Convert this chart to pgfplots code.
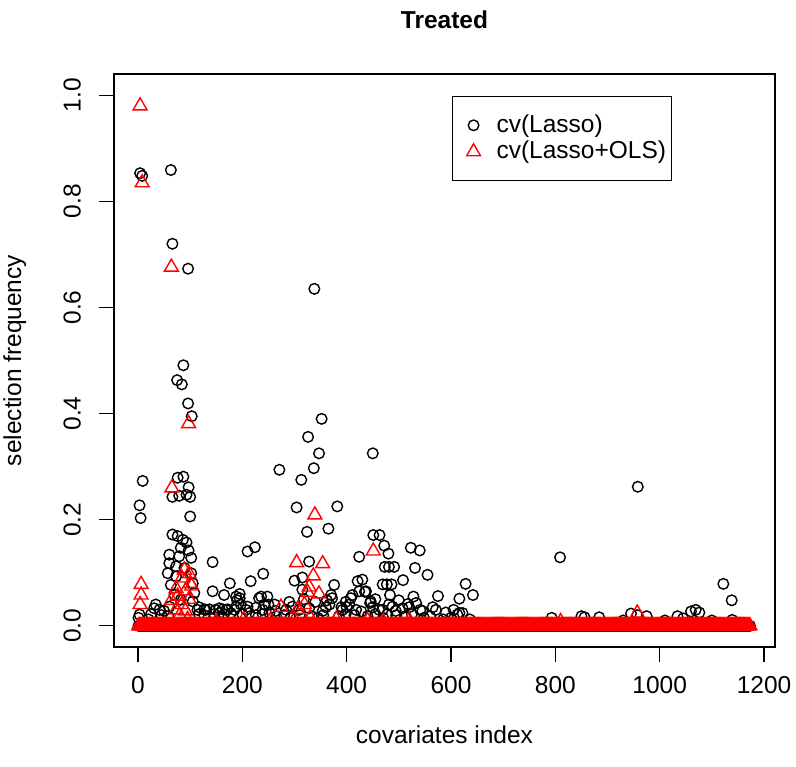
\documentclass[border=0pt]{standalone}
\usepackage{pgfplots}
\pgfplotsset{compat=1.18}
\usepackage{pgfplotstable}
\usepackage{fontspec}
\setmainfont{Liberation Sans}

\pgfplotsset{mymarklegend/.style={legend image code/.code={\path[draw=none] (0pt,0pt) -- (39pt,0pt);\draw[mark repeat=2,mark phase=2,##1,only marks] plot coordinates {(7pt,0pt)(17pt,0pt)(27pt,0pt)};}}}

% indices whose selection frequency is zero (both series)
\pgfplotstableread[row sep=\\]{x y\\
1 0\\ 3 0\\ 5 0\\ 7 0\\ 9 0\\ 11 0\\ 13 0\\ 15 0\\ 17 0\\ 19 0\\ 21 0\\ 23 0\\ 25 0\\ 27 0\\ 29 0\\ 31 0\\ 33 0\\ 35 0\\ 37 0\\ 39 0\\
41 0\\ 43 0\\ 45 0\\ 47 0\\ 49 0\\ 51 0\\ 53 0\\ 55 0\\ 57 0\\ 59 0\\ 61 0\\ 63 0\\ 65 0\\ 67 0\\ 69 0\\ 71 0\\ 73 0\\ 75 0\\ 77 0\\ 79 0\\
81 0\\ 83 0\\ 85 0\\ 87 0\\ 89 0\\ 91 0\\ 93 0\\ 95 0\\ 97 0\\ 99 0\\ 101 0\\ 103 0\\ 105 0\\ 107 0\\ 109 0\\ 111 0\\ 113 0\\ 115 0\\ 117 0\\ 119 0\\
121 0\\ 123 0\\ 125 0\\ 127 0\\ 129 0\\ 131 0\\ 133 0\\ 135 0\\ 137 0\\ 139 0\\ 141 0\\ 143 0\\ 145 0\\ 147 0\\ 149 0\\ 151 0\\ 153 0\\ 155 0\\ 157 0\\ 159 0\\
161 0\\ 163 0\\ 165 0\\ 167 0\\ 169 0\\ 171 0\\ 173 0\\ 175 0\\ 177 0\\ 179 0\\ 181 0\\ 183 0\\ 185 0\\ 187 0\\ 189 0\\ 191 0\\ 193 0\\ 195 0\\ 197 0\\ 199 0\\
201 0\\ 203 0\\ 205 0\\ 207 0\\ 209 0\\ 211 0\\ 213 0\\ 215 0\\ 217 0\\ 219 0\\ 221 0\\ 223 0\\ 225 0\\ 227 0\\ 229 0\\ 231 0\\ 233 0\\ 235 0\\ 237 0\\ 239 0\\
241 0\\ 243 0\\ 245 0\\ 247 0\\ 249 0\\ 251 0\\ 253 0\\ 255 0\\ 257 0\\ 259 0\\ 261 0\\ 263 0\\ 265 0\\ 267 0\\ 269 0\\ 271 0\\ 273 0\\ 275 0\\ 277 0\\ 279 0\\
281 0\\ 283 0\\ 285 0\\ 287 0\\ 289 0\\ 291 0\\ 293 0\\ 295 0\\ 297 0\\ 299 0\\ 301 0\\ 303 0\\ 305 0\\ 307 0\\ 309 0\\ 311 0\\ 313 0\\ 315 0\\ 317 0\\ 319 0\\
321 0\\ 323 0\\ 325 0\\ 327 0\\ 329 0\\ 331 0\\ 333 0\\ 335 0\\ 337 0\\ 339 0\\ 341 0\\ 343 0\\ 345 0\\ 347 0\\ 349 0\\ 351 0\\ 353 0\\ 355 0\\ 357 0\\ 359 0\\
361 0\\ 363 0\\ 365 0\\ 367 0\\ 369 0\\ 371 0\\ 373 0\\ 375 0\\ 377 0\\ 379 0\\ 381 0\\ 383 0\\ 385 0\\ 387 0\\ 389 0\\ 391 0\\ 393 0\\ 395 0\\ 397 0\\ 399 0\\
401 0\\ 403 0\\ 405 0\\ 407 0\\ 409 0\\ 411 0\\ 413 0\\ 415 0\\ 417 0\\ 419 0\\ 421 0\\ 423 0\\ 425 0\\ 427 0\\ 429 0\\ 431 0\\ 433 0\\ 435 0\\ 437 0\\ 439 0\\
441 0\\ 443 0\\ 445 0\\ 447 0\\ 449 0\\ 451 0\\ 453 0\\ 455 0\\ 457 0\\ 459 0\\ 461 0\\ 463 0\\ 465 0\\ 467 0\\ 469 0\\ 471 0\\ 473 0\\ 475 0\\ 477 0\\ 479 0\\
481 0\\ 483 0\\ 485 0\\ 487 0\\ 489 0\\ 491 0\\ 493 0\\ 495 0\\ 497 0\\ 499 0\\ 501 0\\ 503 0\\ 505 0\\ 507 0\\ 509 0\\ 511 0\\ 513 0\\ 515 0\\ 517 0\\ 519 0\\
521 0\\ 523 0\\ 525 0\\ 527 0\\ 529 0\\ 531 0\\ 533 0\\ 535 0\\ 537 0\\ 539 0\\ 541 0\\ 543 0\\ 545 0\\ 547 0\\ 549 0\\ 551 0\\ 553 0\\ 555 0\\ 557 0\\ 559 0\\
561 0\\ 563 0\\ 565 0\\ 567 0\\ 569 0\\ 571 0\\ 573 0\\ 575 0\\ 577 0\\ 579 0\\ 581 0\\ 583 0\\ 585 0\\ 587 0\\ 589 0\\ 591 0\\ 593 0\\ 595 0\\ 597 0\\ 599 0\\
601 0\\ 603 0\\ 605 0\\ 607 0\\ 609 0\\ 611 0\\ 613 0\\ 615 0\\ 617 0\\ 619 0\\ 621 0\\ 623 0\\ 625 0\\ 627 0\\ 629 0\\ 631 0\\ 633 0\\ 635 0\\ 637 0\\ 639 0\\
641 0\\ 643 0\\ 645 0\\ 647 0\\ 649 0\\ 651 0\\ 653 0\\ 655 0\\ 657 0\\ 659 0\\ 661 0\\ 663 0\\ 665 0\\ 667 0\\ 669 0\\ 671 0\\ 673 0\\ 675 0\\ 677 0\\ 679 0\\
681 0\\ 683 0\\ 685 0\\ 687 0\\ 689 0\\ 691 0\\ 693 0\\ 695 0\\ 697 0\\ 699 0\\ 701 0\\ 703 0\\ 705 0\\ 707 0\\ 709 0\\ 711 0\\ 713 0\\ 715 0\\ 717 0\\ 719 0\\
721 0\\ 723 0\\ 725 0\\ 727 0\\ 729 0\\ 731 0\\ 733 0\\ 735 0\\ 737 0\\ 739 0\\ 741 0\\ 743 0\\ 745 0\\ 747 0\\ 749 0\\ 751 0\\ 753 0\\ 755 0\\ 757 0\\ 759 0\\
761 0\\ 763 0\\ 765 0\\ 767 0\\ 769 0\\ 771 0\\ 773 0\\ 775 0\\ 777 0\\ 779 0\\ 781 0\\ 783 0\\ 785 0\\ 787 0\\ 789 0\\ 791 0\\ 793 0\\ 795 0\\ 797 0\\ 799 0\\
801 0\\ 803 0\\ 805 0\\ 807 0\\ 809 0\\ 811 0\\ 813 0\\ 815 0\\ 817 0\\ 819 0\\ 821 0\\ 823 0\\ 825 0\\ 827 0\\ 829 0\\ 831 0\\ 833 0\\ 835 0\\ 837 0\\ 839 0\\
841 0\\ 843 0\\ 845 0\\ 847 0\\ 849 0\\ 851 0\\ 853 0\\ 855 0\\ 857 0\\ 859 0\\ 861 0\\ 863 0\\ 865 0\\ 867 0\\ 869 0\\ 871 0\\ 873 0\\ 875 0\\ 877 0\\ 879 0\\
881 0\\ 883 0\\ 885 0\\ 887 0\\ 889 0\\ 891 0\\ 893 0\\ 895 0\\ 897 0\\ 899 0\\ 901 0\\ 903 0\\ 905 0\\ 907 0\\ 909 0\\ 911 0\\ 913 0\\ 915 0\\ 917 0\\ 919 0\\
921 0\\ 923 0\\ 925 0\\ 927 0\\ 929 0\\ 931 0\\ 933 0\\ 935 0\\ 937 0\\ 939 0\\ 941 0\\ 943 0\\ 945 0\\ 947 0\\ 949 0\\ 951 0\\ 953 0\\ 955 0\\ 957 0\\ 959 0\\
961 0\\ 963 0\\ 965 0\\ 967 0\\ 969 0\\ 971 0\\ 973 0\\ 975 0\\ 977 0\\ 979 0\\ 981 0\\ 983 0\\ 985 0\\ 987 0\\ 989 0\\ 991 0\\ 993 0\\ 995 0\\ 997 0\\ 999 0\\
1001 0\\ 1003 0\\ 1005 0\\ 1007 0\\ 1009 0\\ 1011 0\\ 1013 0\\ 1015 0\\ 1017 0\\ 1019 0\\ 1021 0\\ 1023 0\\ 1025 0\\ 1027 0\\ 1029 0\\ 1031 0\\ 1033 0\\ 1035 0\\ 1037 0\\ 1039 0\\
1041 0\\ 1043 0\\ 1045 0\\ 1047 0\\ 1049 0\\ 1051 0\\ 1053 0\\ 1055 0\\ 1057 0\\ 1059 0\\ 1061 0\\ 1063 0\\ 1065 0\\ 1067 0\\ 1069 0\\ 1071 0\\ 1073 0\\ 1075 0\\ 1077 0\\ 1079 0\\
1081 0\\ 1083 0\\ 1085 0\\ 1087 0\\ 1089 0\\ 1091 0\\ 1093 0\\ 1095 0\\ 1097 0\\ 1099 0\\ 1101 0\\ 1103 0\\ 1105 0\\ 1107 0\\ 1109 0\\ 1111 0\\ 1113 0\\ 1115 0\\ 1117 0\\ 1119 0\\
1121 0\\ 1123 0\\ 1125 0\\ 1127 0\\ 1129 0\\ 1131 0\\ 1133 0\\ 1135 0\\ 1137 0\\ 1139 0\\ 1141 0\\ 1143 0\\ 1145 0\\ 1147 0\\ 1149 0\\ 1151 0\\ 1153 0\\ 1155 0\\ 1157 0\\ 1159 0\\
1161 0\\ 1163 0\\ 1165 0\\ 1167 0\\ 1169 0\\ 1171 0\\ 1173 0\\
}\zerotab

% cv(Lasso): non-zero frequencies
\pgfplotstableread[row sep=\\]{x y\\
4 0.853\\ 8 0.848\\ 63 0.859\\ 66 0.720\\ 96 0.673\\ 338 0.635\\ 87 0.491\\ 75 0.463\\ 84 0.455\\ 96 0.419\\ 103 0.395\\ 352 0.390\\ 326 0.356\\ 347 0.325\\ 450 0.325\\ 271 0.294\\ 337 0.297\\ 313 0.275\\ 9 0.273\\ 76 0.279\\ 87 0.281\\ 97 0.261\\ 66 0.243\\ 79 0.245\\ 93 0.247\\ 100 0.243\\ 3 0.227\\ 5 0.203\\ 100 0.206\\ 304 0.223\\ 382 0.225\\ 324 0.177\\ 365 0.183\\ 451 0.171\\ 463 0.171\\ 472 0.151\\ 480 0.136\\ 224 0.148\\ 210 0.140\\ 523 0.147\\ 540 0.142\\ 424 0.130\\ 473 0.111\\ 481 0.111\\ 491 0.111\\ 531 0.109\\ 555 0.096\\ 508 0.086\\ 469 0.078\\ 477 0.078\\ 486 0.078\\ 483 0.058\\ 575 0.056\\ 628 0.079\\ 642 0.058\\ 616 0.051\\ 958 0.262\\ 809 0.129\\ 1122 0.079\\ 1138 0.048\\
66 0.172\\ 76 0.169\\ 86 0.162\\ 93 0.157\\ 82 0.147\\ 97 0.142\\ 60 0.134\\ 79 0.131\\ 102 0.128\\ 60 0.118\\ 73 0.112\\ 89 0.109\\ 57 0.099\\ 102 0.099\\ 73 0.093\\ 63 0.077\\ 105 0.080\\ 108 0.062\\ 70 0.058\\ 82 0.049\\ 105 0.046\\ 60 0.036\\ 114 0.030\\ 31 0.033\\ 41 0.030\\ 50 0.028\\ 34 0.040\\ 3 0.021\\ 1 0.015\\ 127 0.031\\ 137 0.031\\ 149 0.030\\ 162 0.031\\ 172 0.031\\ 185 0.030\\ 143 0.120\\ 143 0.065\\ 165 0.058\\ 176 0.080\\ 188 0.055\\ 190 0.048\\ 240 0.098\\ 216 0.084\\ 195 0.060\\ 195 0.052\\ 232 0.052\\ 236 0.055\\ 248 0.055\\ 250 0.040\\ 210 0.036\\ 197 0.040\\ 242 0.040\\ 262 0.040\\ 300 0.085\\ 315 0.091\\ 328 0.121\\ 315 0.068\\ 376 0.077\\ 421 0.084\\ 424 0.065\\ 370 0.058\\ 372 0.052\\ 408 0.052\\ 411 0.058\\ 435 0.064\\ 445 0.043\\ 400 0.035\\ 360 0.035\\ 390 0.035\\ 430 0.087\\ 437 0.065\\ 446 0.046\\ 428 0.027\\ 462 0.030\\ 488 0.036\\ 507 0.033\\ 517 0.041\\ 533 0.043\\ 541 0.030\\ 571 0.030\\ 616 0.024\\ 622 0.024\\ 612 0.021\\
117 0.035\\ 130 0.030\\ 156 0.033\\ 169 0.030\\ 188 0.036\\ 207 0.030\\ 226 0.034\\ 239 0.030\\ 264 0.028\\ 284 0.030\\ 296 0.036\\ 309 0.030\\ 328 0.033\\ 354 0.028\\ 367 0.040\\ 392 0.030\\ 405 0.040\\ 418 0.030\\ 450 0.035\\ 469 0.030\\ 481 0.040\\ 494 0.028\\ 520 0.035\\ 545 0.028\\ 565 0.035\\ 590 0.025\\ 605 0.030\\ 290 0.045\\ 318 0.050\\ 340 0.045\\ 362 0.048\\ 398 0.045\\ 455 0.050\\ 500 0.048\\ 528 0.055\\
20 0.012\\ 25 0.022\\ 45 0.020\\ 58 0.018\\ 117 0.022\\ 127 0.020\\ 146 0.022\\ 156 0.024\\ 165 0.022\\ 178 0.024\\ 200 0.022\\ 213 0.024\\ 226 0.020\\ 239 0.022\\ 252 0.024\\ 265 0.018\\ 280 0.020\\ 292 0.015\\ 310 0.020\\ 333 0.018\\ 345 0.015\\ 355 0.020\\ 385 0.018\\ 398 0.022\\ 415 0.020\\ 440 0.018\\ 455 0.022\\ 470 0.015\\ 478 0.022\\ 495 0.020\\ 512 0.018\\ 525 0.022\\ 548 0.015\\ 560 0.018\\ 585 0.012\\ 600 0.015\\ 636 0.012\\ 793 0.015\\ 850 0.018\\ 856 0.016\\ 884 0.016\\ 945 0.023\\ 957 0.020\\ 975 0.018\\ 1034 0.018\\ 1045 0.014\\ 1060 0.027\\ 1069 0.030\\ 1076 0.025\\ 1139 0.011\\ 930 0.010\\ 1010 0.010\\ 1100 0.010\\
}\lassotab

% cv(Lasso+OLS): non-zero frequencies
\pgfplotstableread[row sep=\\]{x y\\
4 0.980\\ 8 0.835\\ 64 0.676\\ 97 0.381\\ 65 0.260\\ 339 0.209\\ 304 0.119\\ 354 0.117\\ 451 0.141\\ 336 0.094\\ 328 0.073\\ 325 0.063\\ 347 0.060\\ 319 0.040\\ 306 0.031\\ 274 0.035\\ 6 0.078\\ 6 0.058\\ 4 0.040\\ 89 0.105\\ 98 0.098\\ 84 0.090\\ 100 0.080\\ 103 0.075\\ 91 0.066\\ 73 0.070\\ 76 0.056\\ 64 0.048\\ 98 0.050\\ 84 0.040\\ 73 0.030\\ 91 0.028\\ 80 0.020\\ 95 0.012\\ 957 0.024\\ 203 0.012\\ 254 0.010\\ 380 0.012\\ 440 0.010\\ 470 0.008\\ 520 0.010\\ 810 0.008\\ 330 0.015\\ 300 0.012\\ 150 0.008\\
}\olstab

\begin{document}
\fontsize{24.5}{29}\selectfont
\begin{tikzpicture}
\useasboundingbox (0,0) rectangle (796pt,767pt);
\begin{axis}[
  at={(114pt,120pt)}, anchor=south west,
  scale only axis, width=661pt, height=573pt,
  xmin=-46, xmax=1221, ymin=-0.04, ymax=1.04,
  axis line style={line width=1.2pt},
  tick style={line width=1.2pt, black},
  tick align=outside, major tick length=15pt,
  xtick pos=bottom, ytick pos=left,
  xtick={0,200,400,600,800,1000,1200},
  xticklabels={0,200,400,600,800,1000,1200},
  ytick={0,0.2,0.4,0.6,0.8,1.0},
  yticklabels={0.0,0.2,0.4,0.6,0.8,1.0},
  xticklabel style={anchor=north, inner sep=0pt},
  xticklabel shift=14pt,
  yticklabel style={rotate=90, anchor=south, inner sep=0pt},
  yticklabel shift=18pt,
  title={\bfseries Treated},
  title style={at={(axis description cs:0.5,1.085)}, anchor=center},
  xlabel={covariates index},
  xlabel style={at={(axis description cs:0.5,-0.1536)}, anchor=center},
  ylabel={selection frequency},
  ylabel style={at={(axis description cs:-0.150,0.5)}, anchor=center},
  legend style={at={(axis description cs:0.5113,0.9616)}, anchor=north west,
    draw=black, line width=1.2pt, inner xsep=4pt, inner ysep=17pt, row sep=3pt,
    nodes={inner sep=1pt}},
  legend cell align=left,
]
\addplot[only marks, mark=o, mark size=5.3pt, black, line width=1.4pt, forget plot] table {\zerotab};
\addplot[only marks, mark=o, mark size=5.3pt, black, line width=1.4pt, mymarklegend] table {\lassotab};
\addlegendentry{cv(Lasso)}
\addplot[only marks, mark=triangle, mark size=8pt, red, line width=1.4pt, forget plot] table {\zerotab};
\addplot[only marks, mark=triangle, mark size=8pt, red, line width=1.4pt, mymarklegend] table {\olstab};
\addlegendentry{cv(Lasso+OLS)}
\end{axis}
\end{tikzpicture}
\end{document}
